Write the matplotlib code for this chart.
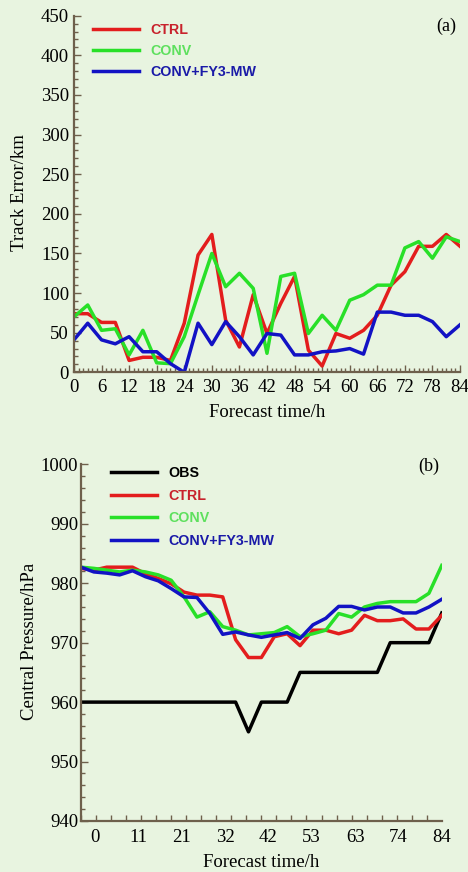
"""Track error and central pressure, panels (a) and (b)"""

import numpy as np
import matplotlib
matplotlib.use('Agg')
import matplotlib.pyplot as plt
from matplotlib.ticker import MultipleLocator

# forecast hours, every 3 h
hours = list(range(0, 85, 3))

# (a) track error / km
err_ctrl = [74, 74, 63, 63, 15, 19, 19, 15, 62, 148, 174, 66, 32, 98, 49, 87,
            121, 28, 8, 49, 43, 53, 72, 110, 127, 159, 159, 174, 159]
err_conv = [70, 85, 53, 55, 22, 53, 12, 11, 45, 98, 150, 108, 125, 106, 24, 121,
            125, 49, 72, 53, 91, 98, 110, 110, 157, 165, 144, 171, 165]
err_fy3 = [41, 62, 41, 36, 45, 26, 26, 11, 0, 62, 35, 64, 45, 22, 49, 47,
           22, 22, 26, 27, 30, 23, 76, 76, 72, 72, 64, 45, 60]

# (b) central pressure / hPa
p_obs = [960, 960, 960, 960, 960, 960, 960, 960, 960, 960, 960, 960, 960, 955, 960, 960,
         960, 965, 965, 965, 965, 965, 965, 965, 970, 970, 970, 970, 975]
p_ctrl = [982.5, 982.2, 982.7, 982.7, 982.7, 981.6, 980.8, 979.9, 978.5, 978.0, 978.0,
          977.7, 970.5, 967.5, 967.5, 971.0, 971.5, 969.5, 972.1, 972.1, 971.5, 972.1,
          974.6, 973.7, 973.7, 974.0, 972.3, 972.3, 974.6]
p_conv = [982.7, 982.5, 982.2, 981.9, 982.2, 981.9, 981.4, 980.5, 977.7, 974.3, 975.2,
          972.7, 972.1, 971.3, 971.5, 971.7, 972.7, 971.0, 971.5, 972.1, 974.9, 974.3,
          976.0, 976.6, 976.9, 976.9, 976.9, 978.3, 983.0]
p_fy3 = [982.7, 981.9, 981.7, 981.4, 982.1, 981.1, 980.4, 979.1, 977.7, 977.6, 974.9,
         971.4, 971.8, 971.3, 970.9, 971.3, 971.7, 970.7, 973.0, 974.1, 976.1, 976.1,
         975.5, 976.0, 976.0, 975.0, 975.0, 976.0, 977.3]

b_tick_labels = ['0', '11', '21', '32', '42', '53', '63', '74', '84']

bg = '#e8f4e0'
axis_col = '#6e604c'
red = '#e31d1d'
green = '#28e028'
blue = '#1212c4'
# legend text is a bit darker/lighter than the lines in the original
text_cols = {'OBS': 'black', 'CTRL': '#c8222c', 'CONV': '#5ee05e', 'CONV+FY3-MW': '#1a1aa8'}
serif = ['Liberation Serif', 'DejaVu Serif']
legend_font = {'family': 'Liberation Sans', 'weight': 'bold', 'size': 10.3}

plt.rcParams['font.family'] = serif

fig = plt.figure(figsize=(4.68, 8.72), dpi=100, facecolor=bg)
ax1 = fig.add_axes([0.158, 0.573, 0.825, 0.409])
ax2 = fig.add_axes([0.173, 0.0585, 0.771, 0.409])


def style_axes(ax):
    ax.set_facecolor(bg)
    for side in ['top', 'right']:
        ax.spines[side].set_visible(False)
    for side in ['left', 'bottom']:
        ax.spines[side].set_color(axis_col)
        ax.spines[side].set_linewidth(1.6)
    ax.tick_params(which='both', direction='in', color=axis_col, width=1.0,
                   labelsize=13.5)
    ax.tick_params(which='minor', length=3)
    ax.tick_params(which='major', length=5)


def colour_legend(leg):
    for txt in leg.get_texts():
        txt.set_color(text_cols[txt.get_text()])


# panel (a)
style_axes(ax1)
lw = 2.5
ax1.plot(hours, err_ctrl, color=red, lw=lw, label='CTRL')
ax1.plot(hours, err_conv, color=green, lw=lw, label='CONV')
ax1.plot(hours, err_fy3, color=blue, lw=lw, label='CONV+FY3-MW')
ax1.set_xlim(0, 84)
ax1.set_ylim(0, 450)
ax1.set_xticks(range(0, 85, 6))
ax1.xaxis.set_minor_locator(MultipleLocator(1))
ax1.yaxis.set_major_locator(MultipleLocator(50))
ax1.yaxis.set_minor_locator(MultipleLocator(10))
ax1.tick_params(axis='x', pad=5)
ax1.set_xlabel('Forecast time/h', fontsize=13.5)
ax1.set_ylabel('Track Error/km', fontsize=13.5)
ax1.yaxis.set_label_coords(-0.12, 0.505)
ax1.xaxis.set_label_coords(0.5, -0.09)
leg1 = ax1.legend(loc='upper left', bbox_to_anchor=(0.05, 0.98), frameon=False,
                  prop=legend_font, handlelength=3.2,
                  handletextpad=0.8, labelspacing=0.5, borderpad=0, borderaxespad=0)
colour_legend(leg1)
ax1.text(0.99, 0.995, '(a)', transform=ax1.transAxes, ha='right', va='top', fontsize=13)

# panel (b)
style_axes(ax2)
ax2.plot(hours, p_obs, color='black', lw=lw, label='OBS')
ax2.plot(hours, p_ctrl, color=red, lw=lw, label='CTRL')
ax2.plot(hours, p_conv, color=green, lw=lw, label='CONV')
ax2.plot(hours, p_fy3, color=blue, lw=lw, label='CONV+FY3-MW')
ax2.set_xlim(0, 84)
ax2.set_ylim(940, 1000)
ax2.set_xticks(np.linspace(3.26, 84, 9))
ax2.set_xticklabels(b_tick_labels)
ax2.xaxis.set_minor_locator(MultipleLocator(3.5))
ax2.tick_params(axis='x', which='major', length=0, pad=6)
ax2.tick_params(axis='x', which='minor', length=4)
ax2.yaxis.set_major_locator(MultipleLocator(10))
ax2.yaxis.set_minor_locator(MultipleLocator(2))
ax2.tick_params(axis='y', pad=2)
ax2.set_xlabel('Forecast time/h', fontsize=13.5)
ax2.set_ylabel('Central Pressure/hPa', fontsize=13.5)
ax2.yaxis.set_label_coords(-0.12, 0.504)
ax2.xaxis.set_label_coords(0.5, -0.092)
leg2 = ax2.legend(loc='upper left', bbox_to_anchor=(0.083, 0.995), frameon=False,
                  prop=legend_font, handlelength=3.2,
                  handletextpad=0.8, labelspacing=0.6, borderpad=0, borderaxespad=0)
colour_legend(leg2)
ax2.text(0.994, 1.02, '(b)', transform=ax2.transAxes, ha='right', va='top', fontsize=13)

fig.savefig('out.png', dpi=100, facecolor=bg)
